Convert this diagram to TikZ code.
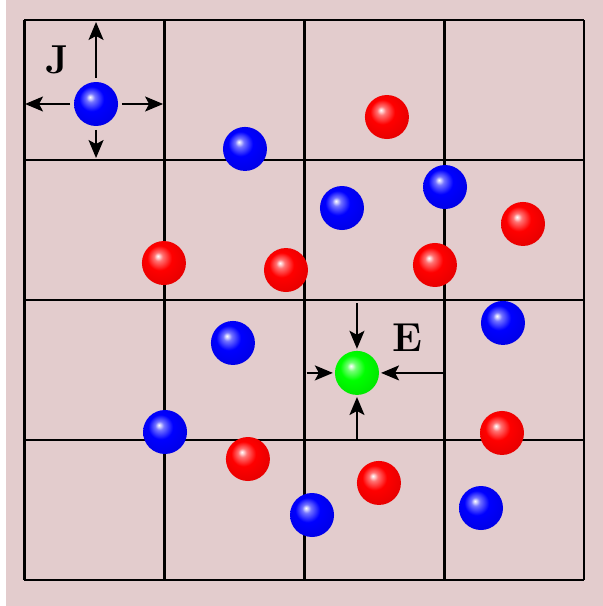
\documentclass[tikz,border=0pt]{standalone}
\usetikzlibrary{arrows.meta}

\definecolor{bgpink}{RGB}{227,204,205}
\colorlet{ballc}{blue}
\pgfdeclareradialshading[ballc]{sphere}{\pgfpoint{-7bp}{8bp}}{%
    color(0bp)=(white); color(2bp)=(ballc!20!white); color(5bp)=(ballc!55!white);
    color(14bp)=(ballc); color(30bp)=(ballc!90!black); color(50bp)=(ballc!75!black)}

\begin{document}
\begin{tikzpicture}[x=2.8cm, y=2.8cm,
    ball/.style={circle, inner sep=0pt, minimum size=0.88cm,
        /utils/exec={\colorlet{ballc}{#1}}, shading=sphere},
    gridline/.style={line width=1.2pt, black},
    hop/.style={line width=1pt, -{Stealth[length=3.6mm, width=3mm, inset=0.8mm]}},
    lbl/.style={font=\fontsize{23}{28}\selectfont\bfseries}]
    %   Background and frame
    \useasboundingbox (-0.175,-0.186) rectangle (4.132,4.143);
    \fill[bgpink] (-0.132,-0.186) rectangle (4.132,4.143);
    \draw[gridline, step={(1,1)}] (0,0) grid (4,4);

    %   Particles
    \node[ball=blue] (b1) at (0.511,3.400) {};
    \node[ball=red]  (r1) at (2.589,3.307) {};
    \node[ball=blue] (b2) at (1.575,3.079) {};
    \node[ball=blue] (b3) at (3.004,2.807) {};
    \node[ball=blue] (b4) at (2.268,2.657) {};
    \node[ball=red]  (r2) at (3.561,2.543) {};
    \node[ball=red]  (r3) at (0.996,2.264) {};
    \node[ball=red]  (r4) at (1.868,2.214) {};
    \node[ball=red]  (r5) at (2.932,2.250) {};
    \node[ball=blue] (b5) at (3.418,1.836) {};
    \node[ball=blue] (b6) at (1.489,1.693) {};
    \node[ball=blue] (b7) at (1.004,1.057) {};
    \node[ball=red]  (r6) at (3.411,1.050) {};
    \node[ball=red]  (r7) at (1.596,0.864) {};
    \node[ball=red]  (r8) at (2.532,0.693) {};
    \node[ball=blue] (b8) at (2.054,0.464) {};
    \node[ball=blue] (b9) at (3.261,0.514) {};
    \node[ball=green] (g) at (2.375,1.479) {};

    %   Hopping J
    \node[lbl] (J) at (0.232,3.714) {J};
    \coordinate (jN) at (0.511,3.986);
    \coordinate (jS) at (0.511,3.014);
    \coordinate (jW) at (0.004,3.400);
    \coordinate (jE) at (0.990,3.400);
    \foreach \c in {jN,jS,jW,jE}
        \draw[hop, shorten <=2pt] (b1) -- (\c);

    %   Interaction E
    \node[lbl] (E) at (2.732,1.729) {E};
    \coordinate (eN) at (2.375,1.975);
    \coordinate (eS) at (2.375,1.000);
    \coordinate (eW) at (2.015,1.479);
    \coordinate (eE) at (3.000,1.479);
    \foreach \c in {eN,eS,eW,eE}
        \draw[hop, shorten >=1pt] (\c) -- (g);
\end{tikzpicture}
\end{document}
